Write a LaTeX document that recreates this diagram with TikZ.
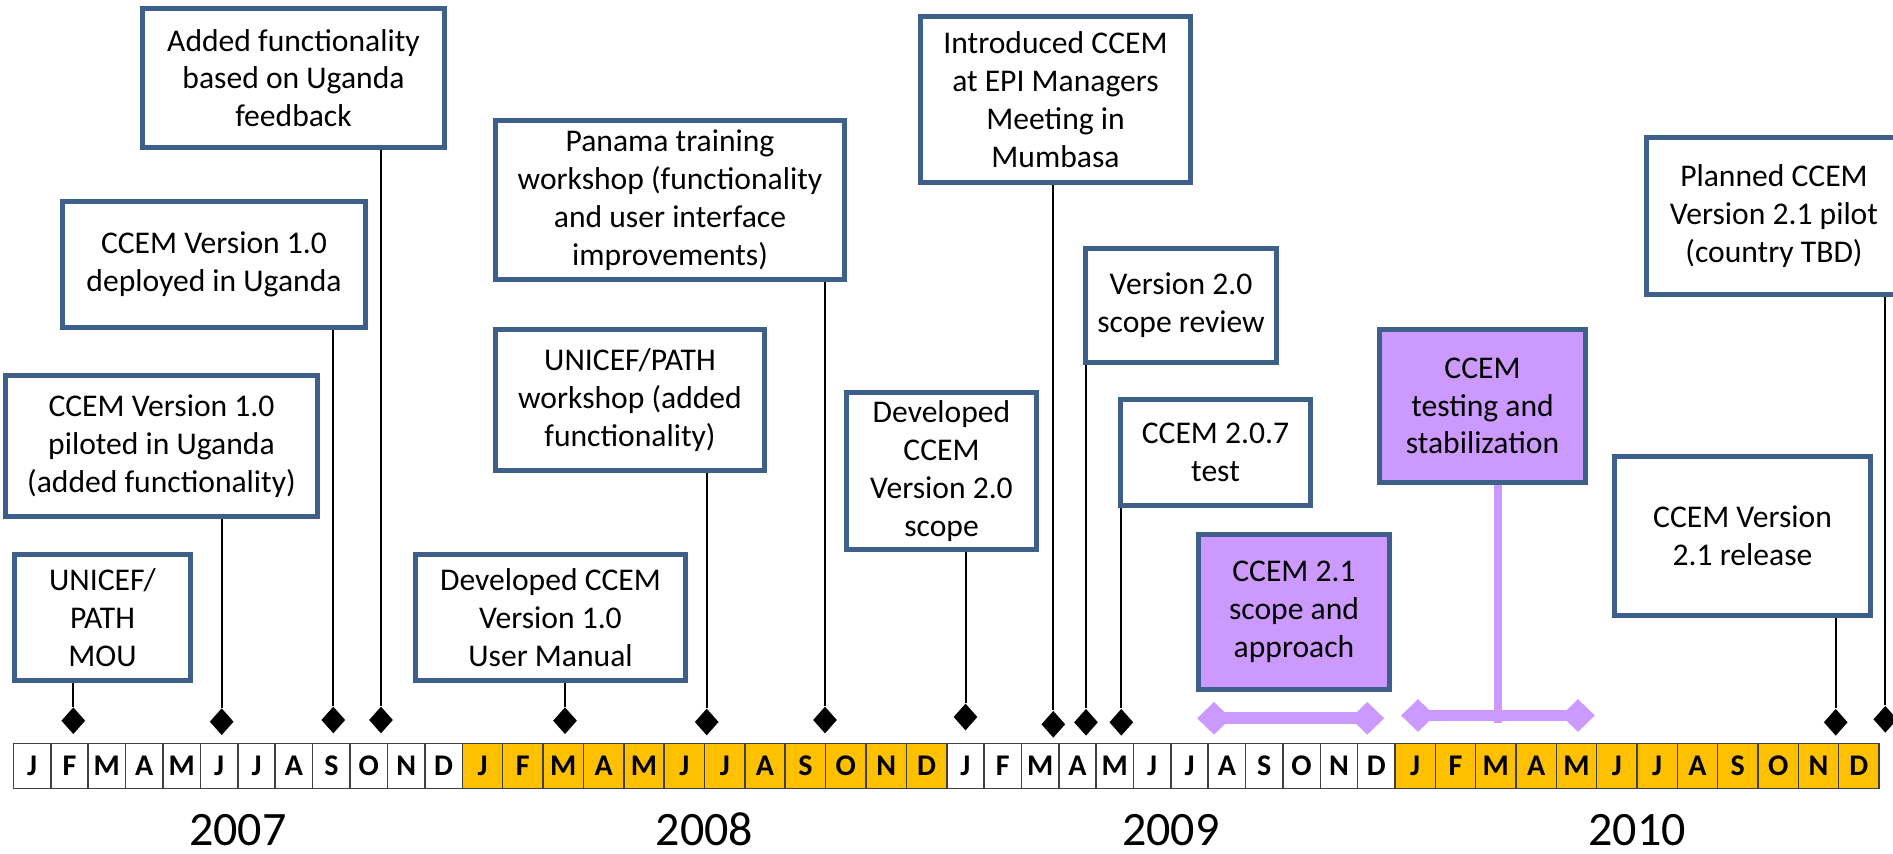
\documentclass[tikz,border=0pt]{standalone}
\usepackage{fontspec}
\setmainfont{Carlito}
\usetikzlibrary{shapes.geometric}
\definecolor{boxblue}{HTML}{3E5F8A}
\definecolor{lav}{HTML}{CC99FF}
\definecolor{orangeY}{HTML}{FFC000}
\definecolor{cellline}{HTML}{404040}
\newcommand\tlbox[7][evbox]{%
  \pgfmathsetmacro\cx{(#3+#5)/2}%
  \pgfmathsetmacro\cy{(#4+#6)/2}%
  \pgfmathsetmacro\ww{(#5-#3-5.2)*0.5}%
  \pgfmathsetmacro\hh{(#6-#4-5.2)*0.5}%
  \node[#1, minimum width=\ww pt, minimum height=\hh pt] (#2) at (\cx,\cy) {#7};%
}
\tikzset{
  evbox/.style={draw=boxblue, line width=2.6pt, fill=white, align=center, inner sep=0pt,
    font=\fontsize{15.8pt}{18.9pt}\selectfont},
  lavbox/.style={evbox, fill=lav},
  dia/.style={diamond, fill=black, inner sep=0pt, minimum width=12pt, minimum height=13.5pt},
  ldia/.style={diamond, fill=lav, inner sep=0pt, minimum width=17pt, minimum height=16.5pt},
  conn/.style={draw=black, line width=1pt},
  lavbar/.style={draw=lav, line width=5.9pt},
  lavstem/.style={draw=lav, line width=3.9pt},
  cell/.style={draw=cellline, line width=0.8pt},
  monthlbl/.style={inner sep=0pt, font=\bfseries\fontsize{15pt}{15pt}\selectfont},
  yearlbl/.style={inner sep=0pt, anchor=base, font=\fontsize{24pt}{24pt}\selectfont},
}
\begin{document}
\begin{tikzpicture}[x=0.5pt, y=-0.5pt]
\useasboundingbox (0,0) rectangle (1893,854);
\fill[white] (0,0) rectangle (1893,854);

% month bar
\foreach \ys/\w/\fc [count=\yi] in {13.3/37.42/white, 462.3/40.37/orangeY, 946.7/37.36/white, 1395/40.33/orangeY} {
  \foreach \m [count=\mi from 0] in {J,F,M,A,M,J,J,A,S,O,N,D} {
    \pgfmathsetmacro\xa{\ys+\mi*\w}
    \pgfmathsetmacro\xb{\xa+\w}
    \pgfmathsetmacro\xc{\xa+\w/2}
    \draw[cell, fill=\fc] (\xa,743.3) rectangle (\xb,788.3);
    \node[monthlbl] (m-\yi-\mi) at (\xc,766) {\m};
  }
}

% years
\node[yearlbl] (y2007) at (237.8,845) {2007};
\node[yearlbl] (y2008) at (704.5,845) {2008};
\node[yearlbl] (y2009) at (1170.9,845) {2009};
\node[yearlbl] (y2010) at (1637,845) {2010};

% boxes
\tlbox{bAdded}{140}{6}{447}{150}{Added functionality\\based on Uganda\\feedback}
\tlbox{bDeployed}{60}{199}{368}{330}{CCEM Version 1.0\\deployed in Uganda}
\tlbox{bPiloted}{3}{373}{320}{519}{CCEM Version 1.0\\piloted in Uganda\\(added functionality)}
\tlbox{bMOU}{12}{552}{193}{683}{UNICEF/\\PATH\\MOU}
\tlbox{bManual}{413}{552}{688}{683}{Developed CCEM\\Version 1.0\\User Manual}
\tlbox{bWorkshop}{493}{327}{767}{473}{UNICEF/PATH\\workshop (added\\functionality)}
\tlbox{bPanama}{493}{118}{847}{282}{Panama training\\workshop (functionality\\and user interface\\improvements)}
\tlbox{bScope}{844}{390}{1039}{552}{Developed\\CCEM\\Version 2.0\\scope}
\tlbox{bIntro}{918}{14}{1193}{185}{Introduced CCEM\\at EPI Managers\\Meeting in\\Mumbasa}
\tlbox{bReview}{1083}{246}{1279}{365}{Version 2.0\\scope review}
\tlbox{bTest}{1118}{397}{1313}{508}{CCEM 2.0.7\\test}
\tlbox[lavbox]{bApproach}{1196}{532}{1392}{692}{CCEM 2.1\\scope and\\approach}
\tlbox[lavbox]{bStab}{1377}{327}{1588}{485}{CCEM\\testing and\\stabilization}
\tlbox{bRelease}{1612}{454}{1873}{618}{CCEM Version\\2.1 release}
\tlbox{bPlanned}{1644}{135}{1904}{297}{Planned CCEM\\Version 2.1 pilot\\(country TBD)}

% diamonds
\node[dia] (dMOU) at (73.3,720.7) {};
\node[dia] (dPiloted) at (221.7,721.7) {};
\node[dia] (dDeployed) at (333.3,720) {};
\node[dia] (dAdded) at (381,720) {};
\node[dia] (dManual) at (565,720.7) {};
\node[dia] (dWorkshop) at (706.7,722) {};
\node[dia] (dPanama) at (825,720) {};
\node[dia] (dScope) at (965.5,717) {};
\node[dia] (dIntro) at (1053.3,724.3) {};
\node[dia] (dReview) at (1086,722.3) {};
\node[dia] (dTest) at (1121.3,722.3) {};
\node[dia] (dRelease) at (1835.7,722.3) {};
\node[dia] (dPlanned) at (1885.3,719.3) {};

% connectors
\foreach \b in {MOU,Piloted,Deployed,Added,Manual,Workshop,Panama,Scope,Intro,Review,Test,Release,Planned}
  \draw[conn] (b\b.south -| d\b.north) -- (d\b.north);

% lavender spans
\node[ldia] (la1) at (1214,718.3) {};
\node[ldia] (la2) at (1367.3,718.3) {};
\draw[lavbar] (la1.center) -- (la2.center);
\node[ldia] (lb1) at (1418,715.5) {};
\node[ldia] (lb2) at (1578,715.5) {};
\draw[lavbar] (lb1.center) -- (lb2.center);
\coordinate (stemEnd) at (1498,723);
\draw[lavstem] (bStab.south -| stemEnd) -- (stemEnd);
\end{tikzpicture}
\end{document}
